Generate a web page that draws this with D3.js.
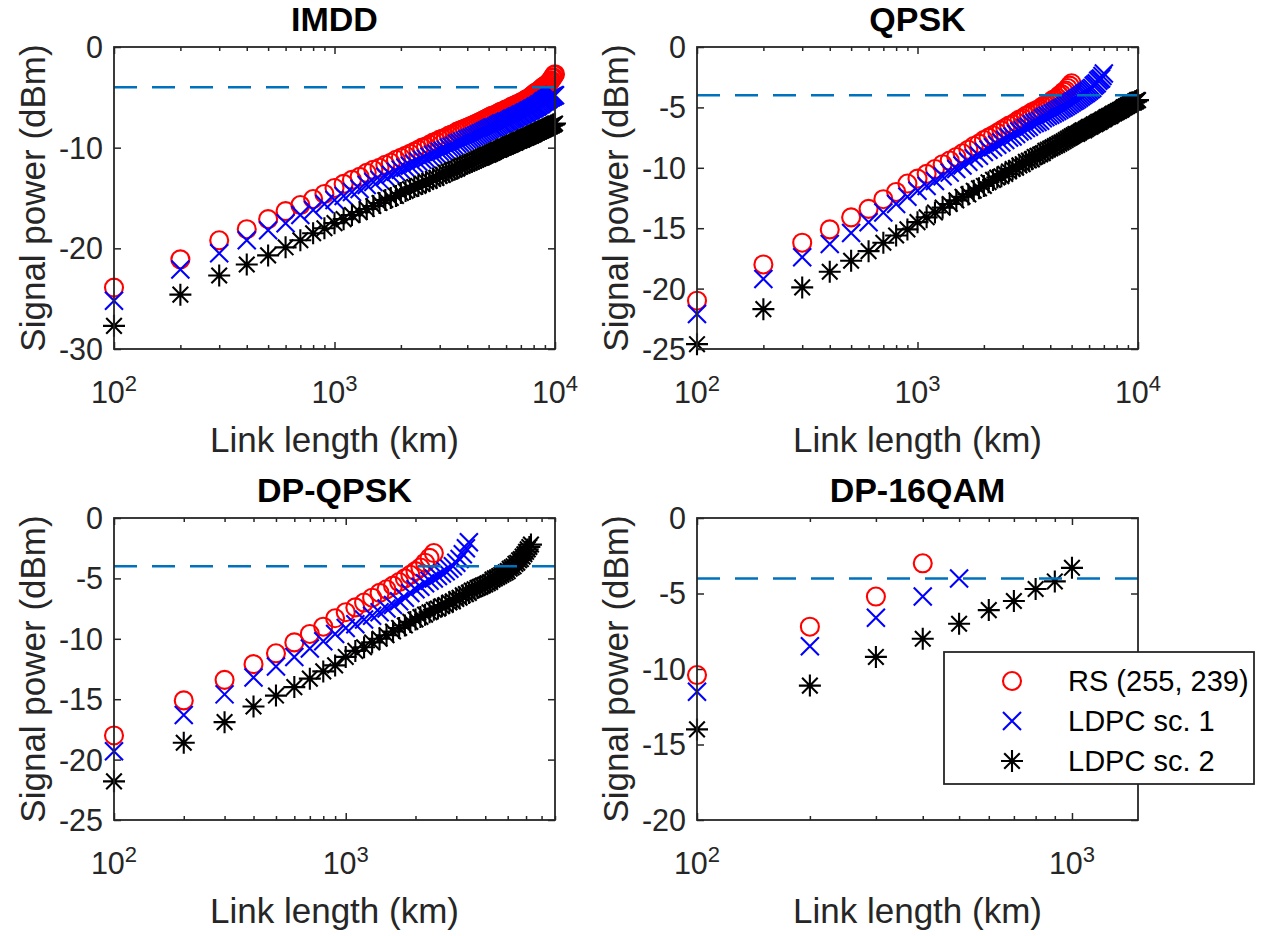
<!DOCTYPE html>
<html>
<head>
<meta charset="utf-8">
<script src="https://cdn.jsdelivr.net/npm/d3@7/dist/d3.min.js"></script>
<style>
  body { margin: 0; background: #fff; }
  svg { display: block; font-family: "Liberation Sans", Arial, Helvetica, sans-serif; }
</style>
</head>
<body>
<div id="chart"></div>
<script>
// each series is sampled every 100 km, starting at 100 km
const STEP_KM = 100;
const POWER_LIMIT = -4;   // dashed line (dBm)

const SERIES_NAMES = ['RS (255, 239)', 'LDPC sc. 1', 'LDPC sc. 2'];

// IMDD
const imddRS = [-23.9,-21.1,-19.2,-18.1,-17.1,-16.3,-15.7,-15.1,-14.6,-14.0,
  -13.6,-13.2,-12.9,-12.5,-12.2,-12.0,-11.7,-11.5,-11.2,-11.0,
  -10.8,-10.6,-10.4,-10.2,-10.0,-9.9,-9.7,-9.5,-9.4,-9.2,
  -9.1,-9.0,-8.8,-8.7,-8.6,-8.4,-8.3,-8.2,-8.1,-8.0,
  -7.9,-7.8,-7.7,-7.6,-7.5,-7.4,-7.3,-7.2,-7.1,-7.0,
  -6.9,-6.8,-6.8,-6.7,-6.6,-6.5,-6.4,-6.4,-6.3,-6.2,
  -6.2,-6.1,-6.0,-5.9,-5.9,-5.8,-5.7,-5.7,-5.6,-5.5,
  -5.5,-5.4,-5.3,-5.2,-5.2,-5.1,-5.0,-4.9,-4.8,-4.7,
  -4.6,-4.5,-4.5,-4.4,-4.3,-4.2,-4.1,-4.0,-3.9,-3.9,
  -3.8,-3.7,-3.6,-3.5,-3.4,-3.3,-3.1,-3.0,-2.8,-2.7];
const imddL1 = [-25.2,-22.1,-20.5,-19.2,-18.2,-17.5,-16.7,-16.2,-15.6,-15.2,
  -14.8,-14.4,-14.1,-13.7,-13.4,-13.2,-12.9,-12.7,-12.4,-12.2,
  -12.0,-11.8,-11.6,-11.4,-11.2,-11.1,-10.9,-10.7,-10.6,-10.4,
  -10.3,-10.2,-10.0,-9.9,-9.8,-9.6,-9.5,-9.4,-9.3,-9.2,
  -9.1,-9.0,-8.9,-8.8,-8.7,-8.6,-8.5,-8.4,-8.3,-8.2,
  -8.1,-8.0,-8.0,-7.9,-7.8,-7.7,-7.6,-7.6,-7.5,-7.4,
  -7.4,-7.3,-7.2,-7.1,-7.1,-7.0,-6.9,-6.9,-6.8,-6.7,
  -6.7,-6.6,-6.5,-6.5,-6.4,-6.3,-6.3,-6.2,-6.1,-6.1,
  -6.0,-5.9,-5.9,-5.8,-5.7,-5.7,-5.6,-5.5,-5.4,-5.4,
  -5.3,-5.2,-5.2,-5.1,-5.0,-5.0,-4.9,-4.9,-4.8,-4.8];
const imddL2 = [-27.7,-24.6,-22.7,-21.6,-20.7,-19.9,-19.2,-18.5,-18.0,-17.5,
  -17.1,-16.7,-16.4,-16.1,-15.8,-15.5,-15.2,-15.0,-14.8,-14.5,
  -14.3,-14.1,-13.9,-13.8,-13.6,-13.4,-13.3,-13.1,-13.0,-12.8,
  -12.7,-12.5,-12.4,-12.3,-12.2,-12.1,-11.9,-11.8,-11.7,-11.6,
  -11.5,-11.4,-11.3,-11.2,-11.1,-11.0,-10.9,-10.8,-10.7,-10.7,
  -10.6,-10.5,-10.4,-10.3,-10.2,-10.2,-10.1,-10.0,-9.9,-9.9,
  -9.8,-9.7,-9.7,-9.6,-9.5,-9.5,-9.4,-9.3,-9.3,-9.2,
  -9.2,-9.1,-9.0,-9.0,-8.9,-8.9,-8.8,-8.8,-8.7,-8.7,
  -8.6,-8.5,-8.5,-8.4,-8.4,-8.3,-8.3,-8.2,-8.2,-8.1,
  -8.1,-8.0,-8.0,-7.9,-7.9,-7.8,-7.8,-7.7,-7.7,-7.6];

// QPSK
const qpskRS = [-21.0,-18.0,-16.2,-15.1,-14.1,-13.4,-12.6,-12.0,-11.3,-10.9,
  -10.5,-10.1,-9.7,-9.4,-9.1,-8.8,-8.5,-8.2,-8.0,-7.7,
  -7.5,-7.3,-7.1,-6.9,-6.7,-6.5,-6.4,-6.2,-6.0,-5.9,
  -5.7,-5.6,-5.4,-5.3,-5.2,-5.1,-4.9,-4.8,-4.7,-4.6,
  -4.4,-4.3,-4.2,-4.0,-3.9,-3.7,-3.6,-3.4,-3.2,-3.0];
const qpskL1 = [-22.1,-19.2,-17.4,-16.3,-15.4,-14.5,-13.7,-13.0,-12.4,-11.9,
  -11.5,-11.1,-10.7,-10.4,-10.1,-9.8,-9.5,-9.2,-9.0,-8.7,
  -8.5,-8.3,-8.1,-7.9,-7.7,-7.5,-7.4,-7.2,-7.0,-6.9,
  -6.7,-6.6,-6.4,-6.3,-6.2,-6.1,-5.9,-5.8,-5.7,-5.6,
  -5.5,-5.4,-5.3,-5.2,-5.1,-5.0,-4.9,-4.8,-4.7,-4.6,
  -4.5,-4.4,-4.3,-4.2,-4.1,-4.0,-3.9,-3.8,-3.7,-3.6,
  -3.5,-3.4,-3.2,-3.1,-3.0,-2.8,-2.7,-2.6,-2.4,-2.2];
const qpskL2 = [-24.6,-21.7,-19.9,-18.6,-17.7,-16.9,-16.2,-15.6,-15.1,-14.5,
  -14.1,-13.7,-13.3,-13.0,-12.7,-12.4,-12.2,-11.9,-11.7,-11.5,
  -11.2,-11.0,-10.8,-10.7,-10.5,-10.3,-10.1,-10.0,-9.8,-9.7,
  -9.5,-9.4,-9.3,-9.1,-9.0,-8.9,-8.8,-8.6,-8.5,-8.4,
  -8.3,-8.2,-8.1,-8.0,-7.9,-7.8,-7.7,-7.6,-7.5,-7.4,
  -7.3,-7.2,-7.2,-7.1,-7.0,-6.9,-6.9,-6.8,-6.7,-6.6,
  -6.6,-6.5,-6.4,-6.4,-6.3,-6.2,-6.2,-6.1,-6.0,-6.0,
  -5.9,-5.8,-5.8,-5.7,-5.7,-5.6,-5.5,-5.5,-5.4,-5.4,
  -5.3,-5.3,-5.2,-5.2,-5.1,-5.0,-5.0,-4.9,-4.9,-4.8,
  -4.8,-4.7,-4.7,-4.6,-4.6,-4.6,-4.5,-4.5,-4.4,-4.4];

// DP-QPSK
const dpqpskRS = [-18.0,-15.1,-13.4,-12.1,-11.2,-10.3,-9.6,-9.0,-8.3,-7.8,
  -7.4,-7.0,-6.6,-6.2,-5.9,-5.6,-5.3,-5.0,-4.7,-4.4,
  -4.1,-3.7,-3.3,-2.9];
const dpqpskL1 = [-19.3,-16.3,-14.6,-13.2,-12.3,-11.5,-10.8,-10.2,-9.6,-9.1,
  -8.8,-8.4,-8.1,-7.8,-7.5,-7.2,-6.9,-6.6,-6.2,-5.9,
  -5.7,-5.4,-5.2,-5.0,-4.8,-4.6,-4.4,-4.2,-4.0,-3.7,
  -3.4,-3.0,-2.5,-2.0];
const dpqpskL2 = [-21.8,-18.6,-16.9,-15.6,-14.7,-14.0,-13.3,-12.7,-12.2,-11.5,
  -11.0,-10.7,-10.3,-10.0,-9.7,-9.4,-9.1,-8.9,-8.6,-8.4,
  -8.2,-8.0,-7.8,-7.6,-7.5,-7.3,-7.2,-7.0,-6.9,-6.7,
  -6.6,-6.4,-6.3,-6.2,-6.0,-5.9,-5.8,-5.7,-5.6,-5.5,
  -5.4,-5.3,-5.1,-5.0,-4.9,-4.8,-4.7,-4.6,-4.5,-4.4,
  -4.2,-4.1,-4.0,-3.8,-3.7,-3.5,-3.4,-3.2,-3.0,-2.8,
  -2.6,-2.4,-2.2];

// DP-16QAM
const dp16RS = [-10.4,-7.2,-5.2,-3.0];
const dp16L1 = [-11.5,-8.5,-6.6,-5.2,-4.0];
const dp16L2 = [-14.0,-11.1,-9.2,-8.0,-7.0,-6.1,-5.5,-4.7,-4.2,-3.3];

const titles = ['IMDD', 'QPSK', 'DP-QPSK', 'DP-16QAM'];
const xMaxKm = [10000, 10000, 8000, 1500];
const yTickValues = [
  [-30, -20, -10, 0],
  [-25, -20, -15, -10, -5, 0],
  [-25, -20, -15, -10, -5, 0],
  [-20, -15, -10, -5, 0]
];
const seriesByPanel = [
  [imddRS, imddL1, imddL2],
  [qpskRS, qpskL1, qpskL2],
  [dpqpskRS, dpqpskL1, dpqpskL2],
  [dp16RS, dp16L1, dp16L2]
];

// layout
const W = 1273, H = 936;
const PLOT_W = 441, PLOT_H = 302;
const ORIGINS = [[114, 47], [697, 47], [114, 518], [697, 518]];
const AXIS_COLOR = '#262626';
const LIMIT_COLOR = '#0072BD';
const TICK_FONT = 30.5, LABEL_FONT = 35, TITLE_FONT = 34;
const MARK_W = 2.1;
const MARKERS = [
  { color: '#ff0000', type: 'circle' },
  { color: '#0000ff', type: 'x' },
  { color: '#000000', type: 'star' }
];

const svg = d3.select('#chart').append('svg')
  .attr('width', W)
  .attr('height', H);

function markerPath(type) {
  if (type === 'x') return 'M-9,-9L9,9M-9,9L9,-9';
  if (type === 'star') return 'M-11,0H11M0,-11V11M-7.8,-7.8L7.8,7.8M-7.8,7.8L7.8,-7.8';
  return null;
}

function drawMarkers(g, data, x, y, m) {
  if (m.type === 'circle') {
    g.selectAll(null).data(data).join('circle')
      .attr('cx', (d, i) => x((i + 1) * STEP_KM))
      .attr('cy', d => y(d))
      .attr('r', 9)
      .attr('fill', 'none')
      .attr('stroke', m.color)
      .attr('stroke-width', MARK_W);
  } else {
    g.selectAll(null).data(data).join('path')
      .attr('transform', (d, i) => `translate(${x((i + 1) * STEP_KM)},${y(d)})`)
      .attr('d', markerPath(m.type))
      .attr('fill', 'none')
      .attr('stroke', m.color)
      .attr('stroke-width', MARK_W);
  }
}

function drawPanel(k) {
  const [ox, oy] = ORIGINS[k];
  const g = svg.append('g').attr('transform', `translate(${ox},${oy})`);
  const yTicks = yTickValues[k];

  const x = d3.scaleLog().domain([100, xMaxKm[k]]).range([0, PLOT_W]);
  const y = d3.scaleLinear().domain([yTicks[0], 0]).range([PLOT_H, 0]);

  const majors = x.ticks().filter(v => Math.abs(Math.log10(v) % 1) < 1e-9);
  const minors = x.ticks().filter(v => !majors.includes(v));

  // ticks, inward on all four sides
  const addAxis = (axis, tx, ty) => {
    const a = g.append('g').attr('transform', `translate(${tx},${ty})`)
      .style('color', AXIS_COLOR).call(axis);
    a.select('.domain').remove();
    a.selectAll('line').attr('stroke-width', 1.5);
  };
  addAxis(d3.axisBottom(x).tickValues(majors).tickSize(-7).tickFormat(''), 0, PLOT_H);
  addAxis(d3.axisBottom(x).tickValues(minors).tickSize(-4).tickFormat(''), 0, PLOT_H);
  addAxis(d3.axisTop(x).tickValues(majors).tickSize(-7).tickFormat(''), 0, 0);
  addAxis(d3.axisTop(x).tickValues(minors).tickSize(-4).tickFormat(''), 0, 0);
  addAxis(d3.axisLeft(y).tickValues(yTicks).tickSize(-7).tickFormat(''), 0, 0);
  addAxis(d3.axisRight(y).tickValues(yTicks).tickSize(-7).tickFormat(''), PLOT_W, 0);

  // y tick labels
  g.append('g').selectAll('text').data(yTicks).join('text')
    .attr('x', -11)
    .attr('y', d => y(d))
    .attr('dy', '0.36em')
    .attr('text-anchor', 'end')
    .attr('font-size', TICK_FONT)
    .attr('fill', AXIS_COLOR)
    .text(d => String(d));

  // x tick labels as 10^n
  const xl = g.append('g').selectAll('text').data(majors).join('text')
    .attr('x', d => x(d))
    .attr('y', PLOT_H + 54)
    .attr('text-anchor', 'middle')
    .attr('font-size', TICK_FONT)
    .attr('fill', AXIS_COLOR);
  xl.append('tspan').text('10');
  xl.append('tspan')
    .attr('dy', -12)
    .attr('font-size', 22)
    .text(d => Math.round(Math.log10(d)));

  // data
  seriesByPanel[k].forEach((s, j) => drawMarkers(g, s, x, y, MARKERS[j]));

  // limit line
  g.append('line')
    .attr('x1', 0).attr('x2', PLOT_W)
    .attr('y1', y(POWER_LIMIT)).attr('y2', y(POWER_LIMIT))
    .attr('stroke', LIMIT_COLOR)
    .attr('stroke-width', 2.5)
    .attr('stroke-dasharray', '23,15');

  // box
  g.append('rect')
    .attr('width', PLOT_W).attr('height', PLOT_H)
    .attr('fill', 'none')
    .attr('stroke', AXIS_COLOR)
    .attr('stroke-width', 1.8);

  // labels
  g.append('text')
    .attr('x', PLOT_W / 2).attr('y', -16)
    .attr('text-anchor', 'middle')
    .attr('font-size', TITLE_FONT)
    .attr('font-weight', 'bold')
    .attr('fill', '#000')
    .text(titles[k]);

  g.append('text')
    .attr('x', PLOT_W / 2).attr('y', PLOT_H + 103)
    .attr('text-anchor', 'middle')
    .attr('font-size', LABEL_FONT)
    .attr('fill', AXIS_COLOR)
    .text('Link length (km)');

  g.append('text')
    .attr('transform', `translate(-82,${PLOT_H / 2}) rotate(-90)`)
    .attr('dy', '0.36em')
    .attr('text-anchor', 'middle')
    .attr('font-size', LABEL_FONT)
    .attr('fill', AXIS_COLOR)
    .text('Signal power (dBm)');
}

d3.range(4).forEach(drawPanel);

// legend (inside DP-16QAM panel)
const legend = svg.append('g').attr('transform', 'translate(944,652)');
legend.append('rect')
  .attr('width', 310).attr('height', 132)
  .attr('fill', '#fff')
  .attr('stroke', AXIS_COLOR)
  .attr('stroke-width', 1.8);
SERIES_NAMES.forEach((name, j) => {
  const row = legend.append('g').attr('transform', `translate(0,${29 + j * 40})`);
  const m = MARKERS[j];
  if (m.type === 'circle') {
    row.append('circle').attr('cx', 68).attr('cy', 0).attr('r', 9)
      .attr('fill', 'none').attr('stroke', m.color).attr('stroke-width', MARK_W);
  } else {
    row.append('path').attr('transform', 'translate(68,0)').attr('d', markerPath(m.type))
      .attr('fill', 'none').attr('stroke', m.color).attr('stroke-width', MARK_W);
  }
  row.append('text')
    .attr('x', 124).attr('dy', '0.36em')
    .attr('font-size', 29)
    .attr('fill', '#000')
    .text(name);
});
</script>
</body>
</html>
